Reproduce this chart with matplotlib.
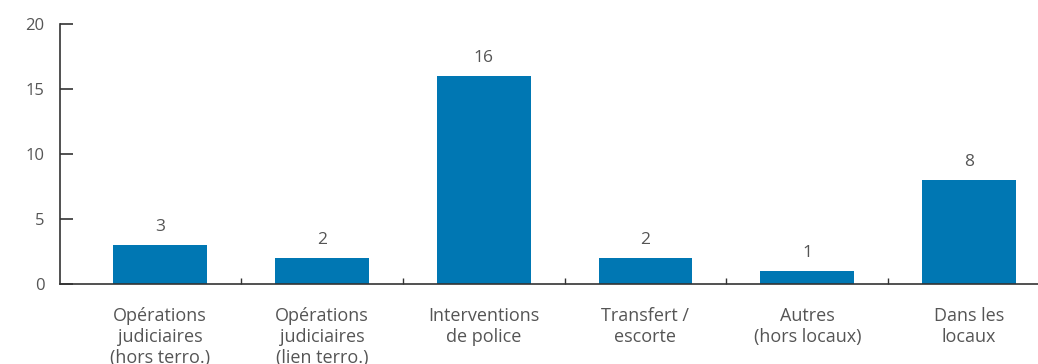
import matplotlib
matplotlib.use("Agg")
import matplotlib.pyplot as plt
import numpy as np

categories = [
    "Opérations\njudiciaires\n(hors terro.)",
    "Opérations\njudiciaires\n(lien terro.)",
    "Interventions\nde police",
    "Transfert /\nescorte",
    "Autres\n(hors locaux)",
    "Dans les\nlocaux",
]
values = [3, 2, 16, 2, 1, 8]
y_ticks = [0, 5, 10, 15, 20]

bar_color = "#0077b3"
text_color = "#555555"
axis_color = "#333333"

plt.rcParams["font.family"] = ["Open Sans", "DejaVu Sans"]

fig = plt.figure(figsize=(10.38, 3.64), dpi=100)
ax = fig.add_axes([60 / 1038, 80 / 364, 1 - 60 / 1038, 260 / 364])

x = np.arange(len(categories))
bars = ax.bar(x, values, width=0.58, color=bar_color, zorder=2)

for xi, v in zip(x, values):
    ax.annotate(str(v), (xi, v), xytext=(0, 7.5), textcoords="offset points",
                ha="center", va="bottom", fontsize=12.5, color=text_color)

ax.set_xlim(-0.618, 5.426)
ax.set_ylim(0, 20)
ax.set_yticks(y_ticks)
ax.set_yticklabels([str(t) for t in y_ticks])

ax.set_xticks(x)
ax.set_xticklabels(categories, fontsize=13, color=text_color, linespacing=1.2)
ax.set_xticks(x[:-1] + 0.5, minor=True)

ax.tick_params(axis="x", which="major", length=0, pad=16.5)
ax.tick_params(axis="x", which="minor", direction="in", length=4, width=1, color=axis_color)
ax.tick_params(axis="y", direction="in", length=9, width=1.2, color=axis_color,
               labelsize=12, labelcolor=text_color, pad=11)

for side in ["top", "right"]:
    ax.spines[side].set_visible(False)
for side in ["left", "bottom"]:
    ax.spines[side].set_color(axis_color)
    ax.spines[side].set_linewidth(1.2)

fig.savefig("out.png", dpi=100)
